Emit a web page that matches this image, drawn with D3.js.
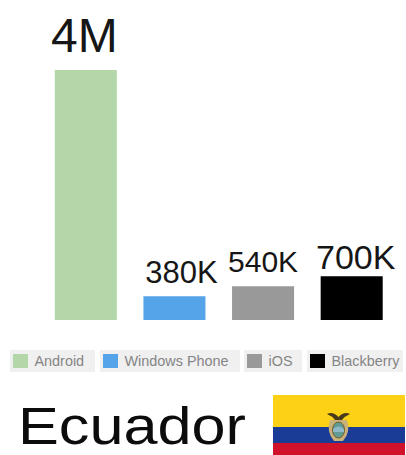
<!DOCTYPE html>
<html>
<head>
<meta charset="utf-8">
<script src="https://cdn.jsdelivr.net/npm/d3@7"></script>
<style>
  html, body { margin: 0; padding: 0; background: #fff; }
  svg { display: block; }
  text { font-family: "Liberation Sans", Arial, sans-serif; }
</style>
</head>
<body>
<svg id="chart" width="406" height="455"></svg>
<script>
// Smartphone platform users in Ecuador
const platforms = ["Android", "Windows Phone", "iOS", "Blackberry"];
const users = [4000000, 380000, 540000, 700000];
const valueLabels = ["4M", "380K", "540K", "700K"];
const platformColors = ["#b3d7a8", "#55a4ea", "#999999", "#000000"];
const countryName = "Ecuador";

// Value label placement, per bar
const labelSizes = [48, 31, 30, 34];
const labelBaselines = [52, 283, 272, 269];
const labelShift = [-1.5, 7, 0, 4];

// Legend chip extents, per platform
const chipLeft = [10, 100, 244, 307];
const chipRight = [95, 240, 302, 403];

const svg = d3.select("#chart");

const x = d3.scaleBand()
  .domain(platforms)
  .range([41.5, 396])
  .paddingInner(0.3)
  .paddingOuter(0.15);

const y = d3.scaleLinear()
  .domain([0, 4000000])
  .range([320, 70]);

svg.append("g")
  .selectAll("rect")
  .data(platforms)
  .join("rect")
  .attr("x", d => x(d))
  .attr("y", (d, i) => y(users[i]))
  .attr("width", x.bandwidth())
  .attr("height", (d, i) => y(0) - y(users[i]))
  .attr("fill", (d, i) => platformColors[i]);

svg.append("g")
  .selectAll("text")
  .data(valueLabels)
  .join("text")
  .attr("x", (d, i) => x(platforms[i]) + x.bandwidth() / 2 + labelShift[i])
  .attr("y", (d, i) => labelBaselines[i])
  .attr("text-anchor", "middle")
  .attr("font-size", (d, i) => labelSizes[i])
  .attr("fill", "#161616")
  .text(d => d);

// Legend chips
const chip = svg.append("g")
  .selectAll("g")
  .data(platforms)
  .join("g");

chip.append("rect")
  .attr("x", (d, i) => chipLeft[i])
  .attr("y", 350)
  .attr("width", (d, i) => chipRight[i] - chipLeft[i])
  .attr("height", 22)
  .attr("fill", "#f0f0f0");

chip.append("rect")
  .attr("x", (d, i) => chipLeft[i] + 3)
  .attr("y", 354)
  .attr("width", 15)
  .attr("height", 14)
  .attr("fill", (d, i) => platformColors[i]);

chip.append("text")
  .attr("x", (d, i) => chipLeft[i] + 24.5)
  .attr("y", 366)
  .attr("font-size", 14.4)
  .attr("fill", "#858585")
  .text(d => d);

// Country name
svg.append("text")
  .attr("x", 18)
  .attr("y", 444.2)
  .attr("font-size", 51)
  .attr("textLength", 228)
  .attr("lengthAdjust", "spacingAndGlyphs")
  .attr("fill", "#0c0c0c")
  .text(countryName);

// National flag with its stripes and coat of arms
const flag = svg.append("g");
flag.append("rect").attr("x", 273).attr("y", 395).attr("width", 132).attr("height", 32).attr("fill", "#fdd116");
flag.append("rect").attr("x", 273).attr("y", 427).attr("width", 132).attr("height", 16).attr("fill", "#1a3c96");
flag.append("rect").attr("x", 273).attr("y", 443).attr("width", 132).attr("height", 12).attr("fill", "#d0122b");

// Condor spreading over the shield
flag.append("path")
  .attr("d", "M327 414 Q333 411 338.5 417 Q344 411 350 414 Q345 416 342 420 L335 420 Q332 416 327 414 Z")
  .attr("fill", "#4a3a1c");
// Drapery behind the shield
flag.append("path")
  .attr("d", "M330 420 Q326 432 334 441 L343 441 Q351 432 347 420 Z")
  .attr("fill", "#c9b27a");
flag.append("ellipse")
  .attr("cx", 338.5).attr("cy", 430).attr("rx", 6).attr("ry", 8)
  .attr("fill", "#5f9c94").attr("stroke", "#7a5a28").attr("stroke-width", 1);
flag.append("path")
  .attr("d", "M333 429 Q338.5 424 344 429 L344 432 L333 432 Z")
  .attr("fill", "#8fb9c9");
</script>
</body>
</html>
